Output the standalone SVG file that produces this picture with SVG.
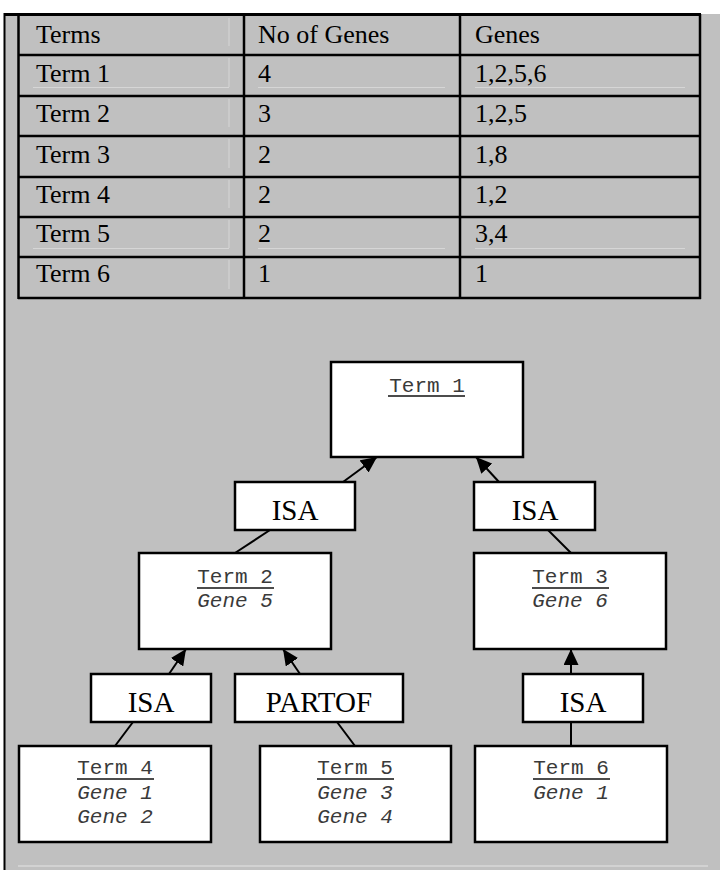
<svg xmlns="http://www.w3.org/2000/svg" width="720" height="870" viewBox="0 0 720 870">
<style>
.cell{font-family:"Liberation Serif","Times New Roman",serif;font-size:26px;fill:#000}
.rel{font-family:"Liberation Serif","Times New Roman",serif;font-size:29px;fill:#000;text-anchor:middle}
.term{font-family:"Liberation Mono","Courier New",monospace;font-size:21px;fill:#3a3a3a;text-anchor:middle}
.gene{font-family:"Liberation Mono","Courier New",monospace;font-size:21px;fill:#3a3a3a;text-anchor:middle;font-style:italic}
.box{fill:#fff;stroke:#000;stroke-width:2.5}
.tl{stroke:#000;stroke-width:2.5}
.faint{stroke:#d6d6d6;stroke-width:1}
.ul{stroke:#111;stroke-width:1.5}
.edge{stroke:#000;stroke-width:2;fill:none}
</style>
<defs>
<marker id="ah" markerUnits="userSpaceOnUse" markerWidth="16" markerHeight="15" refX="16" refY="7.5" orient="auto">
<path d="M0,0 L16,7.5 L0,15 z" fill="#000"/>
</marker>
</defs>
<rect x="0" y="0" width="720" height="870" fill="#fff"/>
<rect x="4" y="14" width="716" height="856" fill="#c0c0c0"/>
<line x1="4.5" y1="13" x2="4.5" y2="870" stroke="#000" stroke-width="2"/>
<line x1="4" y1="14.5" x2="701" y2="14.5" stroke="#000" stroke-width="3"/>
<line x1="18" y1="866" x2="708" y2="866" stroke="#d8d8d8" stroke-width="1.5"/>
<g id="table">
<g class="faint">
<line x1="229" y1="18" x2="229" y2="46"/>
<line x1="229" y1="58" x2="229" y2="87"/>
<line x1="229" y1="99" x2="229" y2="127"/>
<line x1="229" y1="139" x2="229" y2="168"/>
<line x1="229" y1="180" x2="229" y2="208"/>
<line x1="229" y1="220" x2="229" y2="248"/>
<line x1="229" y1="260" x2="229" y2="289"/>
<line x1="33" y1="87.5" x2="229" y2="87.5"/>
<line x1="258" y1="87.5" x2="445" y2="87.5"/>
<line x1="475" y1="87.5" x2="685" y2="87.5"/>
<line x1="33" y1="248.5" x2="229" y2="248.5"/>
<line x1="258" y1="248.5" x2="445" y2="248.5"/>
<line x1="475" y1="248.5" x2="685" y2="248.5"/>
</g>
<g class="tl">
<line x1="18" y1="55" x2="701" y2="55"/>
<line x1="18" y1="96" x2="701" y2="96"/>
<line x1="18" y1="136" x2="701" y2="136"/>
<line x1="18" y1="177" x2="701" y2="177"/>
<line x1="18" y1="217" x2="701" y2="217"/>
<line x1="18" y1="257" x2="701" y2="257"/>
<line x1="18" y1="298" x2="701" y2="298"/>
<line x1="18.5" y1="14" x2="18.5" y2="299"/>
<line x1="244" y1="14" x2="244" y2="299"/>
<line x1="460" y1="14" x2="460" y2="299"/>
<line x1="700" y1="14" x2="700" y2="299"/>
</g>
<text class="cell" x="36" y="43">Terms</text>
<text class="cell" x="258" y="43">No of Genes</text>
<text class="cell" x="475" y="43">Genes</text>
<text class="cell" x="36" y="82">Term 1</text>
<text class="cell" x="258" y="82">4</text>
<text class="cell" x="475" y="82">1,2,5,6</text>
<text class="cell" x="36" y="122">Term 2</text>
<text class="cell" x="258" y="122">3</text>
<text class="cell" x="475" y="122">1,2,5</text>
<text class="cell" x="36" y="163">Term 3</text>
<text class="cell" x="258" y="163">2</text>
<text class="cell" x="475" y="163">1,8</text>
<text class="cell" x="36" y="203">Term 4</text>
<text class="cell" x="258" y="203">2</text>
<text class="cell" x="475" y="203">1,2</text>
<text class="cell" x="36" y="242">Term 5</text>
<text class="cell" x="258" y="242">2</text>
<text class="cell" x="475" y="242">3,4</text>
<text class="cell" x="36" y="282">Term 6</text>
<text class="cell" x="258" y="282">1</text>
<text class="cell" x="475" y="282">1</text>
</g>
<g id="connectors">
<line class="edge" x1="343" y1="482" x2="377" y2="457" marker-end="url(#ah)"/>
<line class="edge" x1="499" y1="482" x2="476" y2="457" marker-end="url(#ah)"/>
<line class="edge" x1="270" y1="530" x2="235" y2="553"/>
<line class="edge" x1="548" y1="530" x2="571" y2="553"/>
<line class="edge" x1="169" y1="674" x2="186" y2="649" marker-end="url(#ah)"/>
<line class="edge" x1="300" y1="674" x2="283" y2="649" marker-end="url(#ah)"/>
<line class="edge" x1="571" y1="674" x2="571" y2="649" marker-end="url(#ah)"/>
<line class="edge" x1="133" y1="722" x2="115" y2="746"/>
<line class="edge" x1="337" y1="722" x2="355" y2="746"/>
<line class="edge" x1="571" y1="722" x2="571" y2="746"/>
</g>
<g id="term1">
<rect class="box" x="331" y="362" width="192" height="95"/>
<text class="term" x="427" y="392">Term 1</text>
<line class="ul" x1="388" y1="396" x2="465" y2="396"/>
</g>
<g id="isa1">
<rect class="box" x="235" y="482" width="120" height="48"/>
<text class="rel" x="295" y="520">ISA</text>
</g>
<g id="isa2">
<rect class="box" x="474" y="482" width="121" height="48"/>
<text class="rel" x="535" y="520">ISA</text>
</g>
<g id="term2">
<rect class="box" x="139" y="553" width="192" height="96"/>
<text class="term" x="235" y="583">Term 2</text>
<line class="ul" x1="197" y1="588" x2="274" y2="588"/>
<text class="gene" x="235" y="607">Gene 5</text>
</g>
<g id="term3">
<rect class="box" x="474" y="553" width="192" height="96"/>
<text class="term" x="570" y="583">Term 3</text>
<line class="ul" x1="532" y1="588" x2="609" y2="588"/>
<text class="gene" x="570" y="607">Gene 6</text>
</g>
<g id="isa3">
<rect class="box" x="91" y="674" width="120" height="48"/>
<text class="rel" x="151" y="712">ISA</text>
</g>
<g id="partof">
<rect class="box" x="235" y="674" width="168" height="48"/>
<text class="rel" x="319" y="712">PARTOF</text>
</g>
<g id="isa4">
<rect class="box" x="523" y="674" width="120" height="48"/>
<text class="rel" x="583" y="712">ISA</text>
</g>
<g id="term4">
<rect class="box" x="19" y="746" width="192" height="96"/>
<text class="term" x="115" y="774">Term 4</text>
<line class="ul" x1="77" y1="779" x2="154" y2="779"/>
<text class="gene" x="115" y="799">Gene 1</text>
<text class="gene" x="115" y="823">Gene 2</text>
</g>
<g id="term5">
<rect class="box" x="260" y="746" width="191" height="96"/>
<text class="term" x="355" y="774">Term 5</text>
<line class="ul" x1="317" y1="779" x2="394" y2="779"/>
<text class="gene" x="355" y="799">Gene 3</text>
<text class="gene" x="355" y="823">Gene 4</text>
</g>
<g id="term6">
<rect class="box" x="475" y="746" width="192" height="96"/>
<text class="term" x="571" y="774">Term 6</text>
<line class="ul" x1="533" y1="779" x2="610" y2="779"/>
<text class="gene" x="571" y="799">Gene 1</text>
</g>
</svg>
